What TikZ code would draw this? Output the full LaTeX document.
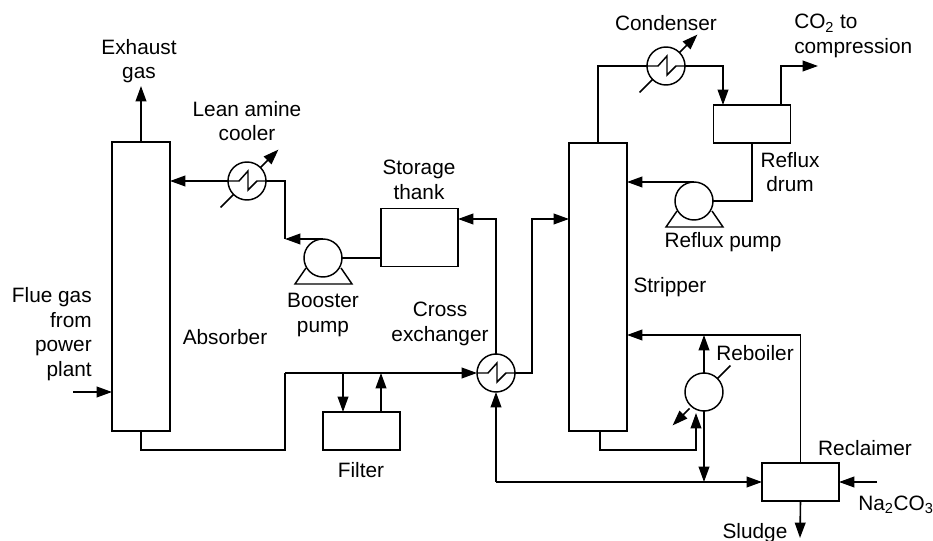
\documentclass[tikz,border=0pt]{standalone}
\usepackage{fontspec}
\setmainfont{Liberation Sans}
\usetikzlibrary{arrows.meta}

\begin{document}
\begin{tikzpicture}[
    x=0.75pt, y=-0.75pt,
    vessel/.style={rectangle, draw, line width=1.2pt, outer sep=0pt, inner sep=0pt},
    unit/.style={circle, draw, line width=1.1pt, minimum size=28.5pt, outer sep=0pt, inner sep=0pt},
    label/.style={align=center, inner sep=0pt, font=\fontsize{15.6}{18.5}\selectfont},
    line/.style={line width=1.2pt},
    flow/.style={line width=1.2pt, -{Triangle[length=11.5pt, width=8pt]}}
]

\useasboundingbox (0,0) rectangle (933,541);

% --- Vessels ---
\node[vessel, minimum width=43.5pt, minimum height=216.75pt] (absorber) at (141,286.5) {};
\node[vessel, minimum width=43.5pt, minimum height=216pt] (stripper) at (598,287) {};
\node[vessel, minimum width=57.75pt, minimum height=43.5pt] (tank) at (419.5,237.5) {};
\node[vessel, minimum width=57.75pt, minimum height=28.5pt] (filter) at (361.5,431) {};
\node[vessel, minimum width=57.75pt, minimum height=28.5pt] (drum) at (752,124) {};
\node[vessel, minimum width=57.75pt, minimum height=28.5pt] (reclaimer) at (800.5,482) {};

% --- Heat exchangers, pumps and reboiler ---
\node[unit] (cooler) at (247,181) {};
\node[unit] (condenser) at (666,66) {};
\node[unit] (exchanger) at (496,373) {};
\node[unit] (reboiler) at (704,392) {};
\node[unit] (booster) at (323,258) {};
\node[unit] (reflux) at (694,201) {};

% --- Zigzag inside the exchangers ---
\foreach \c in {cooler,condenser,exchanger}
{
    \draw[line width=1.1pt] (\c.west) -- ++(11,0) -- ++(9,-10) -- ++(0,19) -- ++(9,-9) -- (\c.east);
}

% --- Service arrows across the exchangers ---
\foreach \c in {cooler,condenser}
{
    \draw[flow] (\c.45) -- ++(18,-18);
    \draw[line] (\c.225) -- ++(-13,13);
}
\draw[flow] (reboiler.225) ++(-1,3) -- ++(-17,17);
\draw[line] (reboiler.45) -- ++(13,-13);

% --- Pump feet ---
\foreach \p in {booster,reflux}
{
    \draw[line width=1.1pt] ([shift={(-17,10)}]\p.center) -- ([shift={(-28,26)}]\p.center) -- ([shift={(29,26)}]\p.center) -- ([shift={(18,10)}]\p.center);
}

% --- Free ends and junctions ---
\coordinate (exhaust) at (141,86);
\coordinate (fluegas) at (73,392);
\coordinate (fluein) at (absorber.west |- fluegas);
\coordinate (richbend) at (285,373);
\coordinate (filterout) at (343,373);
\coordinate (filterback) at (381,373);
\coordinate (boosterbend) at (285,239);
\coordinate (tankin) at (458,219);
\coordinate (stripperin) at (569,219);
\coordinate (drumin) at (723,105);
\coordinate (drumout) at (781,105);
\coordinate (compression) at (818,66);
\coordinate (returnin) at (627,335);
\coordinate (bottomout) at (600,431);
\coordinate (reboilerin) at (696,413);
\coordinate (reboilerfeed) at (696,430);
\coordinate (recycle) at (exchanger.south |- reclaimer.west);
\coordinate (sludge) at (800,538);
\coordinate (soda) at (877,482);

% --- Absorber side ---
\draw[flow] (absorber.north) -- (exhaust);
\draw[flow] (fluegas) -- (fluein);
\draw[line] (absorber.south) -- ++(0,19) -| (richbend);
\draw[flow] (richbend) -- (exchanger.west);
\draw[flow] (filterout) -- (filterout |- filter.north);
\draw[flow] (filterback |- filter.north) -- (filterback);
\draw[flow] (cooler.west) -- (cooler.west -| absorber.east);
\draw[line] (boosterbend) |- (cooler.east);
\draw[flow] (booster.north) -- (boosterbend);
\draw[line] (tank.west |- booster.east) -- (booster.east);
\draw[flow] (exchanger.north) |- (tankin);
\draw[flow] (exchanger.east) -- ++(17,0) |- (stripperin);

% --- Stripper side ---
\draw[line] (stripper.north) |- (condenser.west);
\draw[flow] (condenser.east) -| (drumin);
\draw[flow] (drumout) |- (compression);
\draw[line] (reflux.east) -| (drum.south);
\draw[flow] (reflux.north) -- (reflux.north -| stripper.east);
\draw[line] (bottomout) -- ++(0,19) -| (reboilerfeed);
\draw[flow] (reboilerfeed) -- (reboilerin);
\draw[flow] (reboiler.north) -- (reboiler.north |- returnin);
\draw[flow] (reboiler.south) -- (reboiler.south |- recycle);
\draw[flow] (reclaimer.north) |- (returnin);

% --- Reclaimer ---
\draw[flow] (recycle) -- (reclaimer.west);
\draw[flow] (recycle) -- (exchanger.south);
\draw[flow] (soda) -- (reclaimer.east);
\draw[flow] (reclaimer.south) -- (sludge);

% --- Labels ---
\node[label] (exhaustlabel) at (139,61) {Exhaust\\gas};
\node[label, align=right, anchor=east] (fluelabel) at (92,334) {Flue gas\\from\\power\\plant};
\node[label] (absorberlabel) at (225,337) {Absorber};
\node[label] (coolerlabel) at (247,121) {Lean amine\\cooler};
\node[label] (boosterlabel) at (323,315) {Booster\\pump};
\node[label] (tanklabel) at (419,180) {Storage\\thank};
\node[label] (crosslabel) at (440,324) {Cross\\exchanger};
\node[label] (filterlabel) at (361,470) {Filter};
\node[label] (stripperlabel) at (670,287) {Stripper};
\node[label] (condenserlabel) at (666,23) {Condenser};
\node[label, align=left, anchor=west] (co2label) at (794,36) {CO\textsubscript{2} to\\compression};
\node[label] (drumlabel) at (790,172) {Reflux\\drum};
\node[label] (pumplabel) at (723,242) {Reflux pump};
\node[label] (reboilerlabel) at (755,353) {Reboiler};
\node[label] (reclaimerlabel) at (865,448) {Reclaimer};
\node[label, anchor=west] (sodalabel) at (858,505) {Na\textsubscript{2}CO\textsubscript{3}};
\node[label] (sludgelabel) at (755,533) {Sludge};

\end{tikzpicture}
\end{document}
